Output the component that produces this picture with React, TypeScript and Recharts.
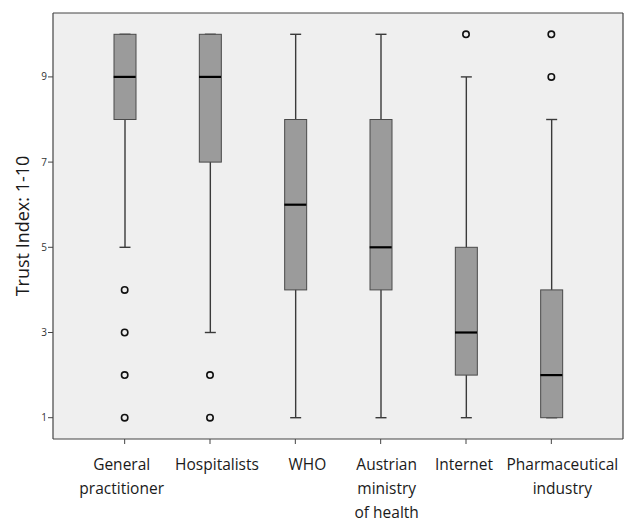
import type { ReactElement } from "react";
import {
  Bar,
  CartesianGrid,
  ComposedChart,
  Scatter,
  XAxis,
  YAxis,
} from "recharts";

const categories = [
  "General practitioner",
  "Hospitalists",
  "WHO",
  "Austrian ministry of health",
  "Internet",
  "Pharmaceutical industry",
];
const categoryLines = [
  ["General", "practitioner"],
  ["Hospitalists"],
  ["WHO"],
  ["Austrian", "ministry", "of health"],
  ["Internet"],
  ["Pharmaceutical", "industry"],
];
const whiskerLow = [5, 3, 1, 1, 1, 1];
const quartile1 = [8, 7, 4, 4, 2, 1];
const medians = [9, 9, 6, 5, 3, 2];
const quartile3 = [10, 10, 8, 8, 5, 4];
const whiskerHigh = [10, 10, 10, 10, 9, 8];
const outliers = [[4, 3, 2, 1], [2, 1], [], [], [10], [10, 9]];
const yTicks = [1, 3, 5, 7, 9];
const yTitle = "Trust Index: 1-10";

const FONT = "'Open Sans', 'Noto Sans', sans-serif";
const BOX_WIDTH = 22;
const CAP_WIDTH = 11;
// SPSS set the category labels a little off the tick marks
const LABEL_SHIFT = [-3, 7, 12, 6, -2, 11];
const outlierKeys = ["o0", "o1", "o2", "o3"];

// plot frame, in pixels of the chart
const PLOT = { left: 53, top: 13, right: 623, bottom: 439 };

const data = categories.map((name, i) => {
  const row: Record<string, unknown> = {
    name,
    whisker: [whiskerLow[i], whiskerHigh[i]],
    box: [quartile1[i], quartile3[i]],
    median: medians[i],
  };
  outlierKeys.forEach((key, k) => {
    row[key] = outliers[i][k] ?? null;
  });
  return row;
});

function WhiskerShape(props: any): ReactElement {
  const { x, y, width, height } = props;
  const cx = x + width / 2;
  const bottom = y + height;
  return (
    <g stroke="#3a3a3a" strokeWidth={1.4}>
      <line x1={cx} x2={cx} y1={y} y2={bottom} />
      <line x1={cx - CAP_WIDTH / 2} x2={cx + CAP_WIDTH / 2} y1={y} y2={y} />
      <line x1={cx - CAP_WIDTH / 2} x2={cx + CAP_WIDTH / 2} y1={bottom} y2={bottom} />
    </g>
  );
}

function BoxShape(props: any): ReactElement {
  const { x, y, width, height } = props;
  return (
    <rect x={x} y={y} width={width} height={height} fill="#9b9b9b" stroke="#4a4a4a" strokeWidth={1} />
  );
}

function MedianShape(props: any): ReactElement {
  const { cx, cy } = props;
  return (
    <line x1={cx - BOX_WIDTH / 2} x2={cx + BOX_WIDTH / 2} y1={cy} y2={cy} stroke="#000" strokeWidth={2.2} />
  );
}

function makeOutlierShape(key: string) {
  return (props: any): ReactElement | null => {
    const { cx, cy, payload } = props;
    if (payload == null || payload[key] == null) return null;
    return <circle cx={cx} cy={cy} r={3.2} fill="none" stroke="#111" strokeWidth={1.6} />;
  };
}

function CategoryTick(props: any): ReactElement {
  const { x, y, payload } = props;
  const idx = categories.indexOf(payload.value);
  const lines = categoryLines[idx] ?? [payload.value];
  const shift = LABEL_SHIFT[idx] ?? 0;
  return (
    <g transform={`translate(${x + shift},${y})`}>
      {lines.map((line, i) => (
        <text
          key={line}
          x={0}
          y={24 + i * 24}
          textAnchor="middle"
          fontFamily={FONT}
          fontSize={15.5}
          fill="#1a1a1a"
        >
          {line}
        </text>
      ))}
    </g>
  );
}

function YTitle(props: any): ReactElement {
  const { viewBox } = props;
  const cy = viewBox.y + viewBox.height / 2;
  return (
    <text
      x={22}
      y={cy}
      transform={`rotate(-90, 22, ${cy})`}
      textAnchor="middle"
      dominantBaseline="central"
      fontFamily={FONT}
      fontSize={18}
      fill="#1a1a1a"
    >
      {yTitle}
    </text>
  );
}

export default function App(): ReactElement {
  return (
    <div style={{ position: "absolute", left: 0, top: 0 }}>
      <ComposedChart
        width={626}
        height={522}
        data={data}
        margin={{ top: 13, right: 3, bottom: 0, left: 0 }}
        barSize={BOX_WIDTH}
        barGap={-BOX_WIDTH}
      >
        <CartesianGrid
          x={PLOT.left}
          y={PLOT.top}
          width={PLOT.right - PLOT.left}
          height={PLOT.bottom - PLOT.top}
          fill="#efefef"
          fillOpacity={1}
          horizontalPoints={[PLOT.top, PLOT.bottom]}
          verticalPoints={[PLOT.left, PLOT.right]}
          stroke="#444"
          strokeWidth={1.2}
        />
        <XAxis
          dataKey="name"
          type="category"
          height={83}
          padding={{ left: 29, right: 29 }}
          axisLine={false}
          tickLine={{ stroke: "#444" }}
          tickSize={5}
          tick={<CategoryTick />}
          interval={0}
        />
        <YAxis
          type="number"
          domain={[0.5, 10.5]}
          ticks={yTicks}
          allowDataOverflow
          width={53}
          axisLine={false}
          tickLine={{ stroke: "#444" }}
          tickSize={5}
          tickMargin={1}
          tick={{ fontSize: 10, fill: "#333", fontFamily: FONT }}
          label={<YTitle />}
        />
        <Bar dataKey="whisker" shape={<WhiskerShape />} isAnimationActive={false} />
        <Bar dataKey="box" shape={<BoxShape />} isAnimationActive={false} />
        <Scatter dataKey="median" shape={<MedianShape />} isAnimationActive={false} />
        {outlierKeys.map((key) => (
          <Scatter key={key} dataKey={key} shape={makeOutlierShape(key)} isAnimationActive={false} />
        ))}
      </ComposedChart>
    </div>
  );
}
